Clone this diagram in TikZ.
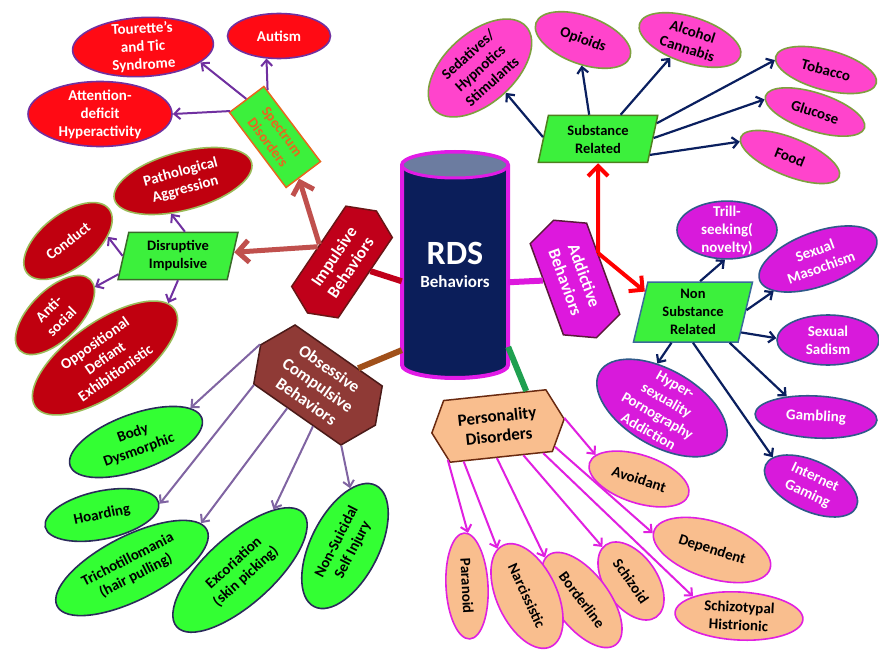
\documentclass[tikz,border=0pt]{standalone}
\usepackage{fontspec}
\setmainfont{Carlito}
\usepackage{tikz}
\usetikzlibrary{shapes.geometric,shapes.symbols,arrows.meta}

\definecolor{rdsNavy}{HTML}{0B1E5A}
\definecolor{rdsTop}{HTML}{6C7CA0}
\definecolor{rdsMag}{HTML}{E11BE6}
\definecolor{impRed}{HTML}{C0001A}
\definecolor{impEdge}{HTML}{6A1515}
\definecolor{addMag}{HTML}{DD18DD}
\definecolor{addEdge}{HTML}{5A1A3A}
\definecolor{ocBrown}{HTML}{8F3A36}
\definecolor{ocEdge}{HTML}{4A1A18}
\definecolor{pdPeach}{HTML}{F9BE8E}
\definecolor{pdEdge}{HTML}{6A2A10}
\definecolor{boxGreen}{HTML}{3CF03C}
\definecolor{spOrange}{HTML}{E8661E}
\definecolor{drBoxEdge}{HTML}{3A6A2A}
\definecolor{suBoxEdge}{HTML}{4F7F1F}
\definecolor{nsBoxEdge}{HTML}{3A6A9A}
\definecolor{spRed}{HTML}{FF0A14}
\definecolor{spPurple}{HTML}{7030A0}
\definecolor{drRed}{HTML}{C0000F}
\definecolor{drEdge}{HTML}{9BBB59}
\definecolor{suPink}{HTML}{FF44CC}
\definecolor{suEdge}{HTML}{7F9F3F}
\definecolor{nsMag}{HTML}{D81ADB}
\definecolor{nsEdge}{HTML}{2F5A8A}
\definecolor{ocGreen}{HTML}{33FF33}
\definecolor{ocLeafEdge}{HTML}{2A2A5A}
\definecolor{pdMag}{HTML}{E020E0}
\definecolor{navyArrow}{HTML}{0A1F5F}
\definecolor{impArrow}{HTML}{C0504D}
\definecolor{ocArrow}{HTML}{8064A2}
\definecolor{ocLink}{HTML}{A0501A}
\definecolor{pdLink}{HTML}{1FA050}

\newcommand{\leaffont}{\bfseries\fontsize{15}{18}\selectfont}
\newcommand{\hubfont}{\bfseries\fontsize{17}{20}\selectfont}
\newcommand{\catfont}{\bfseries\fontsize{14.5}{18}\selectfont}

\begin{document}
\begin{tikzpicture}[x=1pt, y=-1pt, >={Straight Barb[length=6pt,width=11pt]},
    leaf/.style={ellipse, line width=1.6pt, inner sep=-4pt, align=center, font=\leaffont},
    spleaf/.style={leaf, fill=spRed, draw=spPurple, text=white},
    drleaf/.style={leaf, fill=drRed, draw=drEdge, text=white},
    suleaf/.style={leaf, fill=suPink, draw=suEdge, text=black},
    nsleaf/.style={leaf, fill=nsMag, draw=nsEdge, text=white},
    ocleaf/.style={leaf, fill=ocGreen, draw=ocLeafEdge, text=black},
    pdleaf/.style={leaf, fill=pdPeach, draw=pdMag, text=black},
    hub/.style={signal, signal to=west and east, signal pointer angle=130, line width=1.5pt, align=center, font=\hubfont, inner sep=1pt},
    catbox/.style={trapezium, trapezium left angle=78, trapezium right angle=102, trapezium stretches=true, fill=boxGreen, line width=1.5pt, align=center, font=\catfont, inner sep=1pt, minimum width=120, minimum height=47},
    pur/.style={->, draw=spPurple, line width=2pt},
    nav/.style={->, draw=navyArrow, line width=2.2pt},
    lav/.style={->, draw=ocArrow, line width=2pt},
    mag/.style={->, draw=pdMag, line width=2pt},
    fat/.style={-{Straight Barb[length=11pt,width=22pt]}, draw=impArrow, line width=5pt},
    hot/.style={-{Straight Barb[length=10pt,width=20pt]}, draw=red, line width=4pt},
    link/.style={line width=6pt}
    ]
    \useasboundingbox (0,0) rectangle (879,650);
    \fill[white] (0,0) rectangle (879,650);

    \draw[line width=4pt, draw=rdsMag, fill=rdsNavy] (402,165) -- (402,365) arc[start angle=180, end angle=360, x radius=53pt, y radius=13pt] -- (508,165) arc[start angle=0, end angle=180, x radius=53pt, y radius=13pt] -- cycle;
    \draw[line width=3pt, draw=rdsMag, fill=rdsTop] (455,165) ellipse[x radius=53pt, y radius=13pt];
    \node[minimum width=106, minimum height=200, inner sep=0pt, text=white, align=center, font=\bfseries] at (455,265) (rds) {\fontsize{34}{36}\selectfont RDS\\[10pt]\fontsize{17}{20}\selectfont Behaviors};

    \node[hub, fill=impRed, draw=impEdge, text=white, minimum width=123, minimum height=56, rotate=56] at (342,262) (imp) {Impulsive\\Behaviors};
    \node[hub, fill=addMag, draw=addEdge, text=white, minimum width=125, minimum height=60, rotate=-70] at (575,279) (addi) {Addictive\\Behaviors};
    \node[hub, fill=ocBrown, draw=ocEdge, text=white, minimum width=140, minimum height=72, rotate=-35] at (318,385) (obse) {Obsessive\\Compulsive\\Behaviors};
    \node[hub, fill=pdPeach, draw=pdEdge, text=black, minimum width=133, minimum height=62, rotate=6, signal pointer angle=128] at (498,426) (pers) {Personality\\Disorders};

    \node[draw=spOrange, fill=boxGreen, line width=1.5pt, text=spOrange, font=\catfont, align=center, minimum width=94, minimum height=43, inner sep=1pt, rotate=-53] at (275,137) (spec) {Spectrum\\Disorders};
    \node[catbox, draw=drBoxEdge] at (178,256) (disr) {Disruptive\\Impulsive};
    \node[catbox, draw=suBoxEdge] at (598,139) (subs) {Substance\\Related};
    \node[catbox, draw=nsBoxEdge, minimum height=60] at (693,312) (nsub) {Non\\Substance\\Related};

    \node[spleaf, minimum width=141, minimum height=59, rotate=3] at (143,47) (tour) {Tourette’s\\and Tic\\Syndrome};
    \node[spleaf, minimum width=103, minimum height=45] at (279,36) (aut) {Autism};
    \node[spleaf, minimum width=144, minimum height=65] at (100,114) (adhd) {Attention-\\deficit\\Hyperactivity};

    \node[drleaf, minimum width=142, minimum height=58, rotate=15] at (183,181) (aggr) {Pathological\\Aggression};
    \node[drleaf, minimum width=104, minimum height=54, rotate=38] at (68,241) (cond) {Conduct};
    \node[drleaf, minimum width=100, minimum height=50, rotate=45] at (55,315) (anti) {Anti-\\social};
    \node[drleaf, minimum width=170, minimum height=72, rotate=35] at (105,358) (oppo) {Oppositional\\Defiant\\Exhibitionistic};

    \node[suleaf, minimum width=124, minimum height=70, rotate=42] at (480,68) (seda) {Sedatives/\\Hypnotics\\Stimulants};
    \node[suleaf, minimum width=100, minimum height=48, rotate=-20] at (583,40) (opio) {Opioids};
    \node[suleaf, minimum width=106, minimum height=46, rotate=-18] at (690,40) (alco) {Alcohol\\Cannabis};
    \node[suleaf, minimum width=104, minimum height=40, rotate=-15] at (826,70) (toba) {Tobacco};
    \node[suleaf, minimum width=104, minimum height=38, rotate=-18] at (815,112) (gluc) {Glucose};
    \node[suleaf, minimum width=106, minimum height=38, rotate=-22] at (790,157) (food) {Food};

    \node[nsleaf, minimum width=100, minimum height=56] at (727,230) (thrill) {Trill-\\seeking(\\novelty)};
    \node[nsleaf, minimum width=124, minimum height=54, rotate=20] at (818,259) (maso) {Sexual\\Masochism};
    \node[nsleaf, minimum width=102, minimum height=50] at (828,340) (sadi) {Sexual\\Sadism};
    \node[nsleaf, minimum width=122, minimum height=42, rotate=-3] at (816,417) (gamb) {Gambling};
    \node[nsleaf, minimum width=100, minimum height=50, rotate=-25] at (811,486) (inet) {Internet\\Gaming};
    \node[nsleaf, minimum width=144, minimum height=76, rotate=-30, inner sep=-9pt] at (662,408) (hyper) {Hyper-\\sexuality\\Pornography\\Addiction};

    \node[ocleaf, minimum width=140, minimum height=56, rotate=20] at (136,442) (body) {Body\\Dysmorphic};
    \node[ocleaf, minimum width=116, minimum height=48, rotate=12] at (102,515) (hoard) {Hoarding};
    \node[ocleaf, minimum width=168, minimum height=64, rotate=27] at (132,568) (trich) {Trichotillomania\\(hair pulling)};
    \node[ocleaf, minimum width=170, minimum height=68, rotate=42] at (240,570) (excor) {Excoriation\\(skin picking)};
    \node[ocleaf, minimum width=136, minimum height=68, rotate=63] at (345,546) (nssi) {Non-Suicidal\\Self Injury};

    \node[pdleaf, minimum width=104, minimum height=48, rotate=-18] at (639,479) (avoi) {Avoidant};
    \node[pdleaf, minimum width=122, minimum height=56, rotate=-18] at (712,550) (depe) {Dependent};
    \node[pdleaf, minimum width=128, minimum height=48, rotate=-3] at (739,616) (stypal) {Schizotypal\\Histrionic};
    \node[pdleaf, minimum width=88, minimum height=52, rotate=-55] at (631,581) (szoid) {Schizoid};
    \node[pdleaf, minimum width=112, minimum height=54, rotate=-53] at (582,600) (bord) {Borderline};
    \node[pdleaf, minimum width=112, minimum height=60, rotate=-65] at (527,596) (narc) {Narcissistic};
    \node[pdleaf, minimum width=106, minimum height=42, rotate=-87] at (467,586) (para) {Paranoid};

    \draw[link, draw=impRed] (rds.197) -- (imp);
    \draw[link, draw=addMag] (rds.342) -- (addi);
    \draw[link, draw=ocLink] (rds.238) -- (obse);
    \draw[link, draw=pdLink] (rds.303) -- (pers.45);

    \draw[fat] (imp.86) -- (spec.353);
    \draw[fat] (imp.92) -- (disr);
    \draw[hot] (addi.118) -- (subs);
    \draw[hot] (addi.118) -- (nsub.157);

    \draw[pur] (spec.152) -- (aut.241);
    \draw[pur] (spec.west) -- (tour.342);
    \draw[pur] (spec.203) -- (adhd.east);

    \draw[pur] (disr.74) -- (aggr.235);
    \draw[pur] (disr.180) -- (cond.328);
    \draw[pur] (disr.197) -- (anti.350);
    \draw[pur] (disr.270) -- (oppo.6);

    \draw[nav] (subs.178) -- (seda.274);
    \draw[nav] (subs.110) -- (opio.287);
    \draw[nav] (subs.47) -- (alco.240);
    \draw[nav] (subs.15) -- (toba.184);
    \draw[nav] (subs.1) -- (gluc.184);
    \draw[nav] (subs.343) -- (food.185);

    \draw[nav] (nsub.77) -- (thrill.266);
    \draw[nav] (nsub.2) -- (maso.196);
    \draw[nav] (nsub.337) -- (sadi.178);
    \draw[nav] (nsub.235) -- (hyper.126);
    \draw[nav] (nsub.320) -- (gamb.148);
    \draw[nav] (nsub.270) -- (inet.168);

    \draw[lav] (obse.180) -- (body.12);
    \draw[lav] (obse.215) -- (hoard.359);
    \draw[lav] (obse.252) -- (trich.6);
    \draw[lav] (obse.298) -- (excor.19);
    \draw[lav] (obse.326) -- (nssi.22);

    \draw[mag] (pers.208) -- (para.176);
    \draw[mag] (pers.220) -- (narc.187);
    \draw[mag] (pers.262) -- (bord.184);
    \draw[mag] (pers.305) -- (szoid.185);
    \draw[mag] (pers.323) -- (stypal.160);
    \draw[mag] (pers.334) -- (depe.182);
    \draw[mag] (pers.1) -- (avoi.169);
\end{tikzpicture}
\end{document}
